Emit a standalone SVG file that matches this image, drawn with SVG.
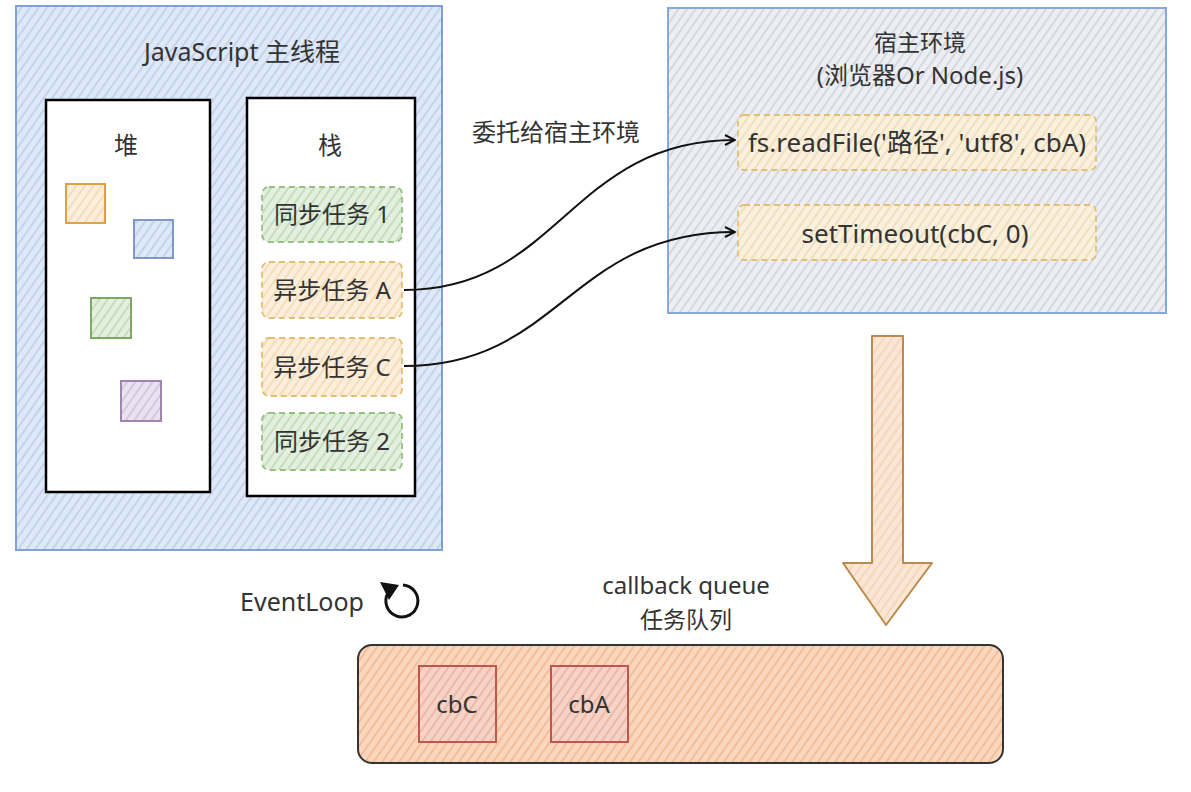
<svg xmlns="http://www.w3.org/2000/svg" width="1191" height="792" viewBox="0 0 1191 792">
<defs>
<pattern id="hBlue" width="7" height="7" patternUnits="userSpaceOnUse" patternTransform="rotate(35)"><rect width="7" height="7" fill="#dde8f8"/><line x1="1" y1="0" x2="1" y2="7" stroke="#bccbe4" stroke-width="1.4"/></pattern>
<pattern id="hGray" width="7" height="7" patternUnits="userSpaceOnUse" patternTransform="rotate(35)"><rect width="7" height="7" fill="#eceef3"/><line x1="1" y1="0" x2="1" y2="7" stroke="#c9cdd6" stroke-width="1.3"/></pattern>
<pattern id="hGreen" width="7" height="7" patternUnits="userSpaceOnUse" patternTransform="rotate(35)"><rect width="7" height="7" fill="#e3efdf"/><line x1="1" y1="0" x2="1" y2="7" stroke="#bcd6b0" stroke-width="1.4"/></pattern>
<pattern id="hOrange" width="7" height="7" patternUnits="userSpaceOnUse" patternTransform="rotate(35)"><rect width="7" height="7" fill="#fdeedb"/><line x1="1" y1="0" x2="1" y2="7" stroke="#f1d6ae" stroke-width="1.4"/></pattern>
<pattern id="hYellow" width="7" height="7" patternUnits="userSpaceOnUse" patternTransform="rotate(35)"><rect width="7" height="7" fill="#faf0dc"/><line x1="1" y1="0" x2="1" y2="7" stroke="#e9dab4" stroke-width="1.4"/></pattern>
<pattern id="hQueue" width="7" height="7" patternUnits="userSpaceOnUse" patternTransform="rotate(35)"><rect width="7" height="7" fill="#f9d6bd"/><line x1="1" y1="0" x2="1" y2="7" stroke="#f2b892" stroke-width="1.6"/></pattern>
<pattern id="hRed" width="7" height="7" patternUnits="userSpaceOnUse" patternTransform="rotate(35)"><rect width="7" height="7" fill="#f6d3c6"/><line x1="1" y1="0" x2="1" y2="7" stroke="#e8ad9b" stroke-width="1.4"/></pattern>
<pattern id="hArrow" width="7" height="7" patternUnits="userSpaceOnUse" patternTransform="rotate(35)"><rect width="7" height="7" fill="#fbe6d5"/><line x1="1" y1="0" x2="1" y2="7" stroke="#f1cfb1" stroke-width="1.3"/></pattern>
<pattern id="hPurple" width="7" height="7" patternUnits="userSpaceOnUse" patternTransform="rotate(35)"><rect width="7" height="7" fill="#ebe2ef"/><line x1="1" y1="0" x2="1" y2="7" stroke="#cfbcd8" stroke-width="1.4"/></pattern>
<marker id="arr" viewBox="0 0 12 12" refX="11" refY="6" markerWidth="12" markerHeight="12" markerUnits="userSpaceOnUse" orient="auto">
<path d="M1,1 L11,6 L1,11" fill="none" stroke="#111" stroke-width="2"/>
</marker>
<style>
text{font-family:"Noto Sans","Noto Sans CJK SC",sans-serif;fill:#333;text-anchor:middle;}
.t23{font-size:23px;}
.t24{font-size:24px;}
.t25{font-size:25px;}
.t26{font-size:26px;}
.box{stroke:#000;stroke-width:2.5;fill:#fff;}
.task-g{fill:url(#hGreen);stroke:#97c184;stroke-width:1.8;stroke-dasharray:6 4;}
.task-o{fill:url(#hOrange);stroke:#e2c073;stroke-width:1.8;stroke-dasharray:6 4;}
.task-y{fill:url(#hYellow);stroke:#e2c073;stroke-width:1.8;stroke-dasharray:6 4;}
.conn{fill:none;stroke:#111;stroke-width:2;}
</style>
</defs>
<rect width="1191" height="792" fill="#fff"/>

<g id="js-main">
<rect x="16" y="6" width="426" height="544" fill="url(#hBlue)" stroke="#7fa2d6" stroke-width="2"/>
<text class="t25" x="242" y="61">JavaScript 主线程</text>
</g>

<g id="heap">
<rect class="box" x="46" y="100" width="164" height="392"/>
<text class="t24" x="126" y="154">堆</text>
<rect x="66" y="184" width="39" height="39" fill="url(#hOrange)" stroke="#e0a23a" stroke-width="2"/>
<rect x="134" y="220" width="39" height="38" fill="url(#hBlue)" stroke="#7f98c6" stroke-width="2"/>
<rect x="91" y="298" width="40" height="40" fill="url(#hGreen)" stroke="#7ea866" stroke-width="2"/>
<rect x="121" y="381" width="40" height="40" fill="url(#hPurple)" stroke="#a085b0" stroke-width="2"/>
</g>

<g id="stack">
<rect class="box" x="247" y="98" width="168" height="398"/>
<text class="t24" x="330" y="154">栈</text>
</g>

<g id="sync1">
<rect class="task-g" x="262" y="187" width="140" height="55" rx="7"/>
<text class="t24" x="332" y="223">同步任务 1</text>
</g>
<g id="asyncA">
<rect class="task-o" x="262" y="262" width="140" height="56" rx="7"/>
<text class="t24" x="332" y="299">异步任务 A</text>
</g>
<g id="asyncC">
<rect class="task-o" x="262" y="338" width="140" height="58" rx="7"/>
<text class="t24" x="332" y="376">异步任务 C</text>
</g>
<g id="sync2">
<rect class="task-g" x="262" y="413" width="140" height="57" rx="7"/>
<text class="t24" x="332" y="450">同步任务 2</text>
</g>

<g id="host">
<rect x="668" y="8" width="498" height="305" fill="url(#hGray)" stroke="#87a8da" stroke-width="2"/>
<text class="t23" x="920" y="51">宿主环境</text>
<text class="t24" x="920" y="84">(浏览器Or Node.js)</text>
</g>
<g id="readFile">
<rect class="task-y" x="738" y="115" width="358" height="55" rx="6"/>
<text class="t26" x="917" y="152">fs.readFile('路径', 'utf8', cbA)</text>
</g>
<g id="setTimeout">
<rect class="task-y" x="738" y="205" width="358" height="55" rx="6"/>
<text class="t26" x="915" y="243">setTimeout(cbC, 0)</text>
</g>

<g id="delegate-label">
<text class="t24" x="556" y="141">委托给宿主环境</text>
</g>

<g id="connectors">
<path class="conn" d="M404,290 C560,290 570,140 735,140" marker-end="url(#arr)"/>
<path class="conn" d="M404,366 C560,366 570,232 735,232" marker-end="url(#arr)"/>
</g>

<g id="big-arrow">
<polygon points="872,336 903,336 903,563 932,563 886,625 843,563 872,563" fill="url(#hArrow)" stroke="#bb8a4c" stroke-width="2" stroke-linejoin="round"/>
</g>

<g id="eventloop">
<text class="t25" x="302" y="611">EventLoop</text>
<path d="M403,585 A16,16 0 1 1 388,593" fill="none" stroke="#111" stroke-width="3"/>
<polygon points="380,582 399,585 389,600" fill="#111"/>
</g>

<g id="queue-label">
<text class="t24" x="686" y="594">callback queue</text>
<text class="t23" x="686" y="628">任务队列</text>
</g>

<g id="queue">
<rect x="358" y="645" width="645" height="118" rx="14" fill="url(#hQueue)" stroke="#333" stroke-width="2"/>
</g>
<g id="cbC">
<rect x="419" y="666" width="77" height="76" fill="url(#hRed)" stroke="#c0574d" stroke-width="2"/>
<text class="t24" x="457" y="713">cbC</text>
</g>
<g id="cbA">
<rect x="551" y="666" width="77" height="76" fill="url(#hRed)" stroke="#c0574d" stroke-width="2"/>
<text class="t24" x="589" y="713">cbA</text>
</g>
</svg>
